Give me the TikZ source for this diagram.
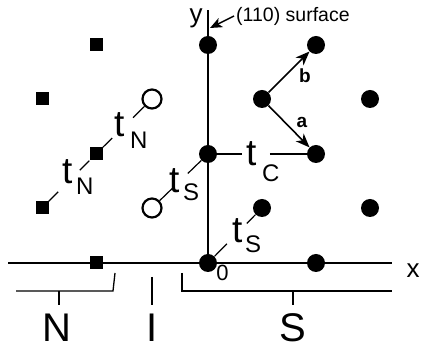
\documentclass[tikz,border=0pt]{standalone}
\usepackage{fontspec}
\setmainfont{Liberation Sans}
\usetikzlibrary{arrows.meta,calc}
\begin{document}
\begin{tikzpicture}[x=1pt,y=-1pt,
  dot/.style={circle,fill=black,minimum size=18pt,inner sep=0},
  sqr/.style={rectangle,fill=black,minimum size=13pt,inner sep=0},
  ocirc/.style={circle,draw=black,line width=2.2pt,fill=white,minimum size=19pt,inner sep=0},
  axis/.style={line width=2.2pt},
  conn/.style={line width=1.2pt},
  brk/.style={line width=1.3pt},
  tl/.style={inner sep=0,anchor=base west,font=\fontsize{37}{37}\selectfont},
  subl/.style={inner sep=0,anchor=base west,font=\fontsize{24}{24}\selectfont},
  big/.style={inner sep=0,font=\fontsize{40}{40}\selectfont},
  vec/.style={line width=1.6pt,-{Stealth[length=14pt,width=11pt,inset=4pt]}},
  vlab/.style={inner sep=0,font=\bfseries\fontsize{19}{19}\selectfont}
]
\useasboundingbox (0,0) rectangle (421,352);

% axes
\coordinate (xs) at (8,263);
\coordinate (xe) at (392,263);
\coordinate (ys) at (208,263);
\coordinate (ye) at (208,10);
\draw[axis] (xs) -- (xe);
\draw[axis] (ys) -- (ye);

% S side dots
\node[dot] (d0) at (208,263) {};
\node[dot] (d1) at (316,263) {};
\node[dot] (dy1) at (208,154) {};
\node[dot] (dy2) at (208,45) {};
\node[dot] (dc) at (316,154) {};
\node[dot] (dg) at (262,99) {};
\node[dot] (db) at (316,45) {};
\node[dot] (dr1) at (370,99) {};
\node[dot] (dr2) at (370,208) {};
\node[dot] (dl) at (262,208) {};

% N side squares
\node[sqr] (s1) at (96,45) {};
\node[sqr] (s2) at (42,99) {};
\node[sqr] (s3) at (96,154) {};
\node[sqr] (s4) at (42,208) {};
\node[sqr] (s5) at (96,263) {};

% open circles
\node[ocirc] (c1) at (152,99) {};
\node[ocirc] (c2) at (152,208) {};

% hopping connectors
\draw[conn] (s3) -- ($(s3)!0.29!(c1)$);
\draw[conn] ($(s3)!0.66!(c1)$) -- (c1);
\draw[conn] (s4) -- ($(s4)!0.30!(s3)$);
\draw[conn] ($(s4)!0.70!(s3)$) -- (s3);
\draw[conn] (c2) -- ($(c2)!0.36!(dy1)$);
\draw[conn] ($(c2)!0.64!(dy1)$) -- (dy1);
\draw[conn] (dy1) -- ($(dy1)!0.315!(dc)$);
\draw[conn] ($(dy1)!0.574!(dc)$) -- (dc);
\draw[conn] (d0) -- ($(d0)!0.35!(dl)$);
\draw[conn] ($(d0)!0.72!(dl)$) -- (dl);

% hopping labels
\node[tl] (tn1) at (114,137) {t};
\node[subl] (tn1s) at (130,149) {N};
\node[tl] (tn2) at (62,184) {t};
\node[subl] (tn2s) at (76,195) {N};
\node[tl] (ts1) at (169,193) {t};
\node[subl] (ts1s) at (183,201) {S};
\node[tl] (tc) at (246,166) {t};
\node[subl] (tcs) at (262,182) {C};
\node[tl] (ts2) at (232,243) {t};
\node[subl] (ts2s) at (245,253) {S};

% lattice vectors
\draw[vec] (dg) -- (db);
\draw[vec] (dg) -- (dc);
\node[vlab] (lb) at (305,76) {b};
\node[vlab] (la) at (302,122) {a};

% axis labels
\node[inner sep=0,font=\fontsize{26}{26}\selectfont] (xl) at (413,271) {x};
\node[inner sep=0,font=\fontsize{26}{26}\selectfont] (yl) at (196,18) {y};
\node[inner sep=0,font=\fontsize{22}{22}\selectfont] (zero) at (222.5,272.5) {0};

% surface annotation
\node[inner sep=2pt,anchor=west,font=\fontsize{19.5}{19.5}\selectfont] (surf) at (234,16) {(110) surface};
\coordinate (ytip) at (210,28);
\draw[line width=1.5pt,-{Stealth[length=12pt,width=10pt,inset=3pt]}] (surf.west) -- (ytip);

% region brackets
\coordinate (nb1) at (16,291);
\coordinate (nb2) at (113,291);
\coordinate (nb3) at (115,273);
\coordinate (nt1) at (59,291);
\coordinate (nt2) at (59,305);
\draw[brk] (nb1) -- (nb2) -- (nb3);
\draw[brk] (nt1) -- (nt2);
\coordinate (it1) at (152,277);
\coordinate (it2) at (152,305);
\draw[brk] (it1) -- (it2);
\coordinate (sb1) at (182,273);
\coordinate (sb2) at (182,291);
\coordinate (sb3) at (392,291);
\coordinate (st1) at (293,291);
\coordinate (st2) at (293,305);
\draw[brk] (sb1) -- (sb2) -- (sb3);
\draw[brk] (st1) -- (st2);

\node[big] (lN) at (57,328) {N};
\node[big] (lI) at (152,328) {I};
\node[big] (lS) at (293,328) {S};
\end{tikzpicture}
\end{document}
